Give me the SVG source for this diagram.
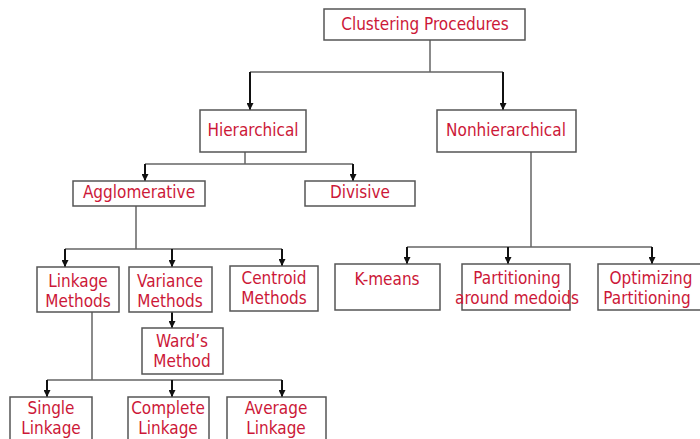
<svg xmlns="http://www.w3.org/2000/svg" width="700" height="439" viewBox="0 0 700 439">
<defs>
<marker id="ah" viewBox="0 0 10 10" refX="10" refY="5" markerWidth="7" markerHeight="7" markerUnits="userSpaceOnUse" orient="auto">
<path d="M0,0 L10,5 L0,10 z" fill="#111"/>
</marker>
<style>
.box{fill:#fff;stroke:#555;stroke-width:1.5}
.t{font-family:"DejaVu Sans Condensed","DejaVu Sans",sans-serif;font-size:17px;fill:#cc1838;text-anchor:middle}
.ln{fill:none;stroke:#666;stroke-width:1.5}
.ar{fill:none;stroke:#111;stroke-width:2;marker-end:url(#ah)}
</style>
</defs>
<rect width="700" height="439" fill="#fff"/>
<g id="connectors">
<path class="ln" d="M430,40 V72 M250,72 H503"/>
<path class="ar" d="M250,72 V110"/>
<path class="ar" d="M503,72 V110"/>
<path class="ln" d="M245,152 V164 M145,164 H353"/>
<path class="ar" d="M145,164 V181"/>
<path class="ar" d="M353,164 V181"/>
<path class="ln" d="M136,206 V249 M65,249 H282"/>
<path class="ar" d="M65,249 V267"/>
<path class="ar" d="M172,249 V267"/>
<path class="ar" d="M282,249 V266"/>
<path class="ln" d="M531,152 V247 M407,247 H652"/>
<path class="ar" d="M407,247 V264"/>
<path class="ar" d="M508,247 V264"/>
<path class="ar" d="M652,247 V264"/>
<path class="ar" d="M172,312 V328"/>
<path class="ln" d="M92,312 V380 M47,380 H282"/>
<path class="ar" d="M47,380 V397"/>
<path class="ar" d="M172,380 V397"/>
<path class="ar" d="M282,380 V397"/>
</g>
<g id="clustering"><rect class="box" x="324" y="9" width="201" height="31"/><text class="t" x="425" y="30">Clustering Procedures</text></g>
<g id="hierarchical"><rect class="box" x="200" y="110" width="106" height="42"/><text class="t" x="253" y="136">Hierarchical</text></g>
<g id="nonhierarchical"><rect class="box" x="437" y="110" width="139" height="42"/><text class="t" x="506" y="136">Nonhierarchical</text></g>
<g id="agglomerative"><rect class="box" x="73" y="181" width="132" height="25"/><text class="t" x="139" y="198">Agglomerative</text></g>
<g id="divisive"><rect class="box" x="305" y="181" width="110" height="25"/><text class="t" x="360" y="198">Divisive</text></g>
<g id="linkage"><rect class="box" x="37" y="267" width="82" height="45"/><text class="t" x="78" y="286.5">Linkage</text><text class="t" x="78" y="306.5">Methods</text></g>
<g id="variance"><rect class="box" x="129" y="267" width="83" height="45"/><text class="t" x="170" y="286.5">Variance</text><text class="t" x="170" y="306.5">Methods</text></g>
<g id="centroid"><rect class="box" x="230" y="266" width="88" height="45"/><text class="t" x="274" y="284">Centroid</text><text class="t" x="274" y="304">Methods</text></g>
<g id="kmeans"><rect class="box" x="335" y="264" width="105" height="46"/><text class="t" x="387" y="285">K-means</text></g>
<g id="pam"><rect class="box" x="462" y="264" width="108" height="46"/><text class="t" x="517" y="284">Partitioning</text><text class="t" x="517" y="304">around medoids</text></g>
<g id="optimizing"><rect class="box" x="598" y="264" width="104" height="46"/><text class="t" x="651" y="284">Optimizing</text><text class="t" x="647" y="304">Partitioning</text></g>
<g id="wards"><rect class="box" x="142" y="328" width="81" height="46"/><text class="t" x="182" y="347">Ward’s</text><text class="t" x="182" y="367">Method</text></g>
<g id="single"><rect class="box" x="10" y="397" width="82" height="46"/><text class="t" x="51" y="414">Single</text><text class="t" x="51" y="433.5">Linkage</text></g>
<g id="complete"><rect class="box" x="128" y="397" width="81" height="46"/><text class="t" x="168" y="414">Complete</text><text class="t" x="168" y="433.5">Linkage</text></g>
<g id="average"><rect class="box" x="227" y="397" width="99" height="46"/><text class="t" x="276" y="414">Average</text><text class="t" x="276" y="433.5">Linkage</text></g>
</svg>
